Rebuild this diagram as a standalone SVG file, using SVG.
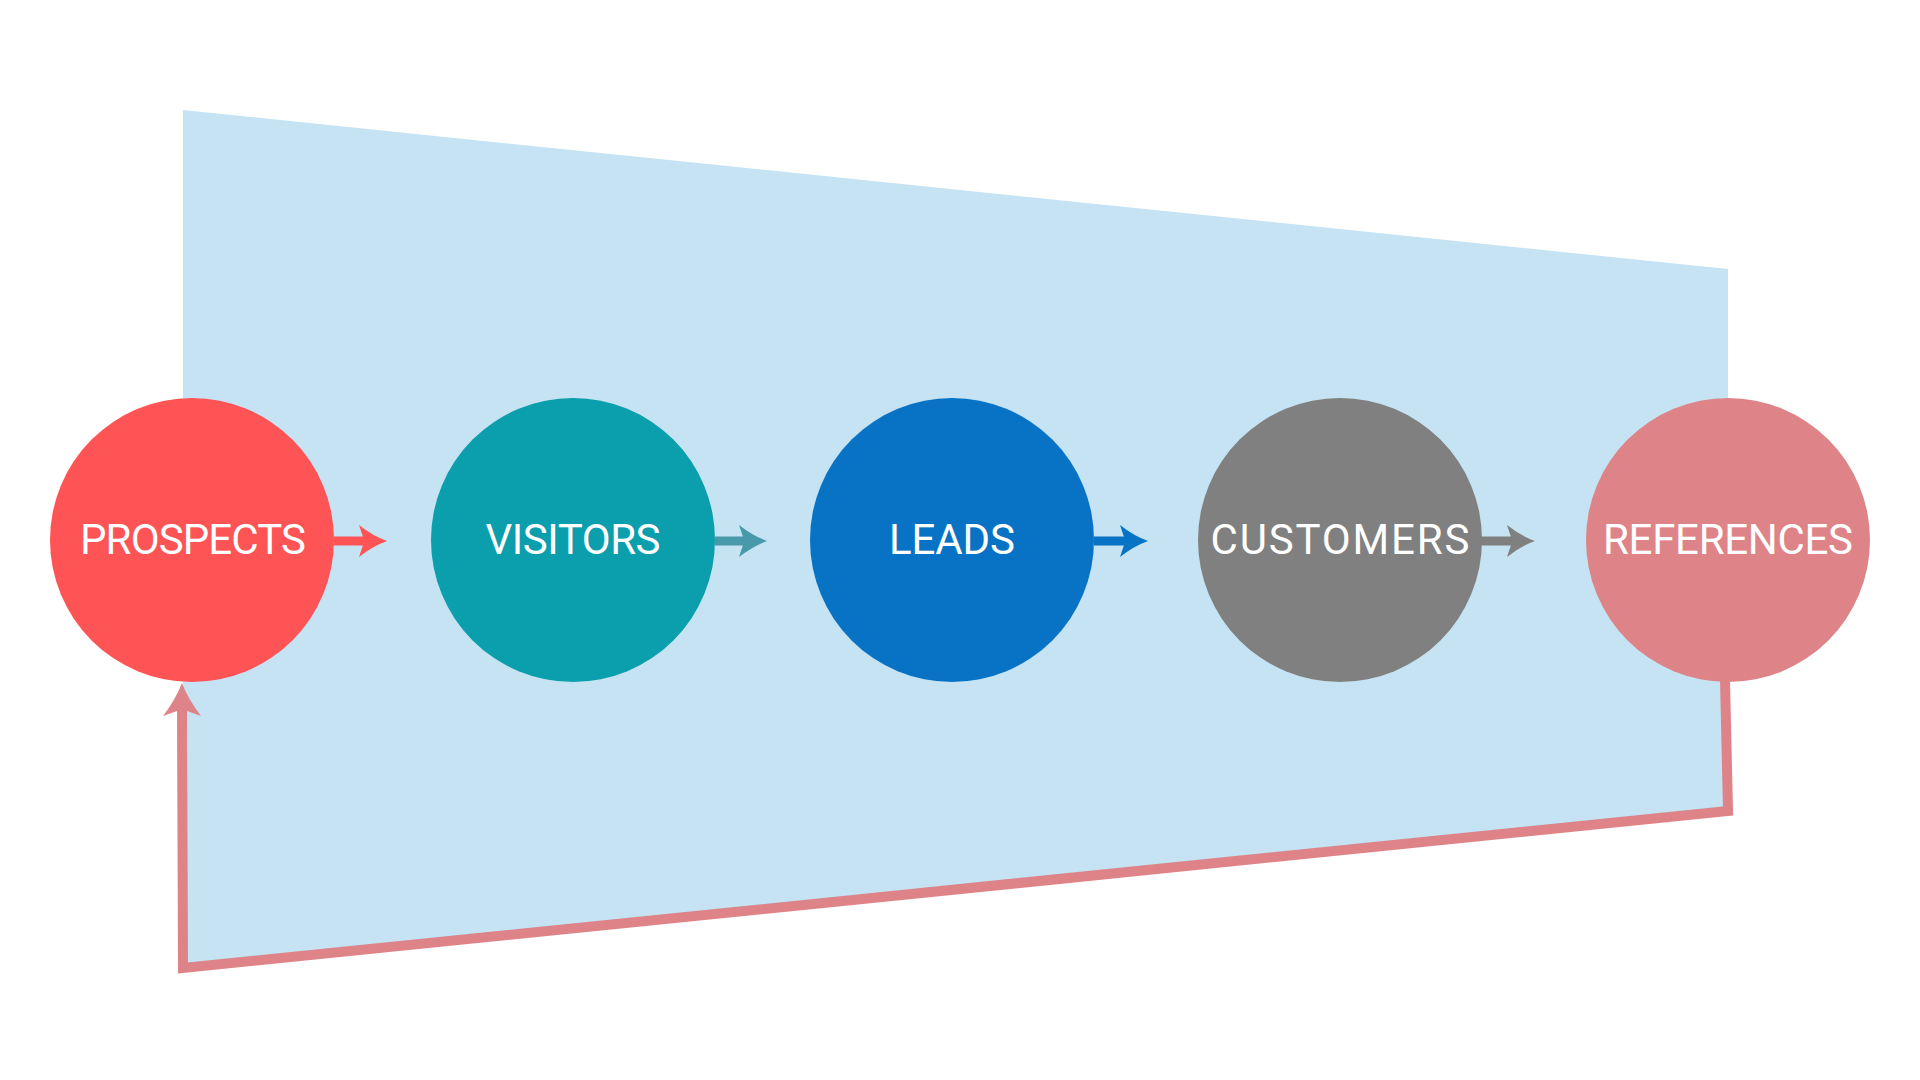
<svg xmlns="http://www.w3.org/2000/svg" width="1920" height="1080" viewBox="0 0 1920 1080">
<style>
.lbl{font-family:Roboto,"Noto Sans","Liberation Sans",sans-serif;font-size:42px;fill:#ffffff;text-anchor:middle}
.arr{fill:none;stroke-width:9}
</style>
<defs>
<marker id="hRed" markerUnits="userSpaceOnUse" markerWidth="40" markerHeight="40" viewBox="-30 -20 32 40" refX="-20" refY="0" orient="auto"><path d="M0,0 Q-14,-5 -28,-16 L-24,-4 L-24,4 L-28,16 Q-14,5 0,0 Z" fill="#FF5456"/></marker>
<marker id="hTeal" markerUnits="userSpaceOnUse" markerWidth="40" markerHeight="40" viewBox="-30 -20 32 40" refX="-20" refY="0" orient="auto"><path d="M0,0 Q-14,-5 -28,-16 L-24,-4 L-24,4 L-28,16 Q-14,5 0,0 Z" fill="#4899A9"/></marker>
<marker id="hBlue" markerUnits="userSpaceOnUse" markerWidth="40" markerHeight="40" viewBox="-30 -20 32 40" refX="-20" refY="0" orient="auto"><path d="M0,0 Q-14,-5 -28,-16 L-24,-4 L-24,4 L-28,16 Q-14,5 0,0 Z" fill="#0873C5"/></marker>
<marker id="hGrey" markerUnits="userSpaceOnUse" markerWidth="40" markerHeight="40" viewBox="-30 -20 32 40" refX="-20" refY="0" orient="auto"><path d="M0,0 Q-14,-5 -28,-16 L-24,-4 L-24,4 L-28,16 Q-14,5 0,0 Z" fill="#808080"/></marker>
<marker id="hPink" markerUnits="userSpaceOnUse" markerWidth="44" markerHeight="44" viewBox="-36 -22 38 44" refX="-24" refY="0" orient="auto"><path d="M0,0 Q-16,-6 -33,-19 L-28,-5 L-28,5 L-33,19 Q-16,6 0,0 Z" fill="#DE8488"/></marker>
</defs>
<rect width="1920" height="1080" fill="#ffffff"/>
<polygon id="funnel" points="183,110 1728,269 1728,811 183,968" fill="#C5E3F3"/>
<g id="connectors">
<path class="arr" d="M334,541 H367" stroke="#FF5456" marker-end="url(#hRed)"/>
<path class="arr" d="M715,541 H747" stroke="#4899A9" marker-end="url(#hTeal)"/>
<path class="arr" d="M1094,541 H1128" stroke="#0873C5" marker-end="url(#hBlue)"/>
<path class="arr" d="M1481,541 H1515" stroke="#808080" marker-end="url(#hGrey)"/>
<path d="M1725,680 L1728,811 L183,968 L182,707" fill="none" stroke="#DE8488" stroke-width="10" stroke-linejoin="miter" marker-end="url(#hPink)"/>
</g>
<g id="prospects"><circle cx="192" cy="540" r="142" fill="#FF5456"/><text class="lbl" x="193" y="554" textLength="226" lengthAdjust="spacing">PROSPECTS</text></g>
<g id="visitors"><circle cx="573" cy="540" r="142" fill="#0B9EAD"/><text class="lbl" x="573" y="554" textLength="175" lengthAdjust="spacing">VISITORS</text></g>
<g id="leads"><circle cx="952" cy="540" r="142" fill="#0873C5"/><text class="lbl" x="952" y="554" textLength="126" lengthAdjust="spacing">LEADS</text></g>
<g id="customers"><circle cx="1340" cy="540" r="142" fill="#808080"/><text class="lbl" x="1340" y="554" textLength="259" lengthAdjust="spacing">CUSTOMERS</text></g>
<g id="references"><circle cx="1728" cy="540" r="142" fill="#DE8488"/><text class="lbl" x="1728" y="554" textLength="250" lengthAdjust="spacing">REFERENCES</text></g>
</svg>
